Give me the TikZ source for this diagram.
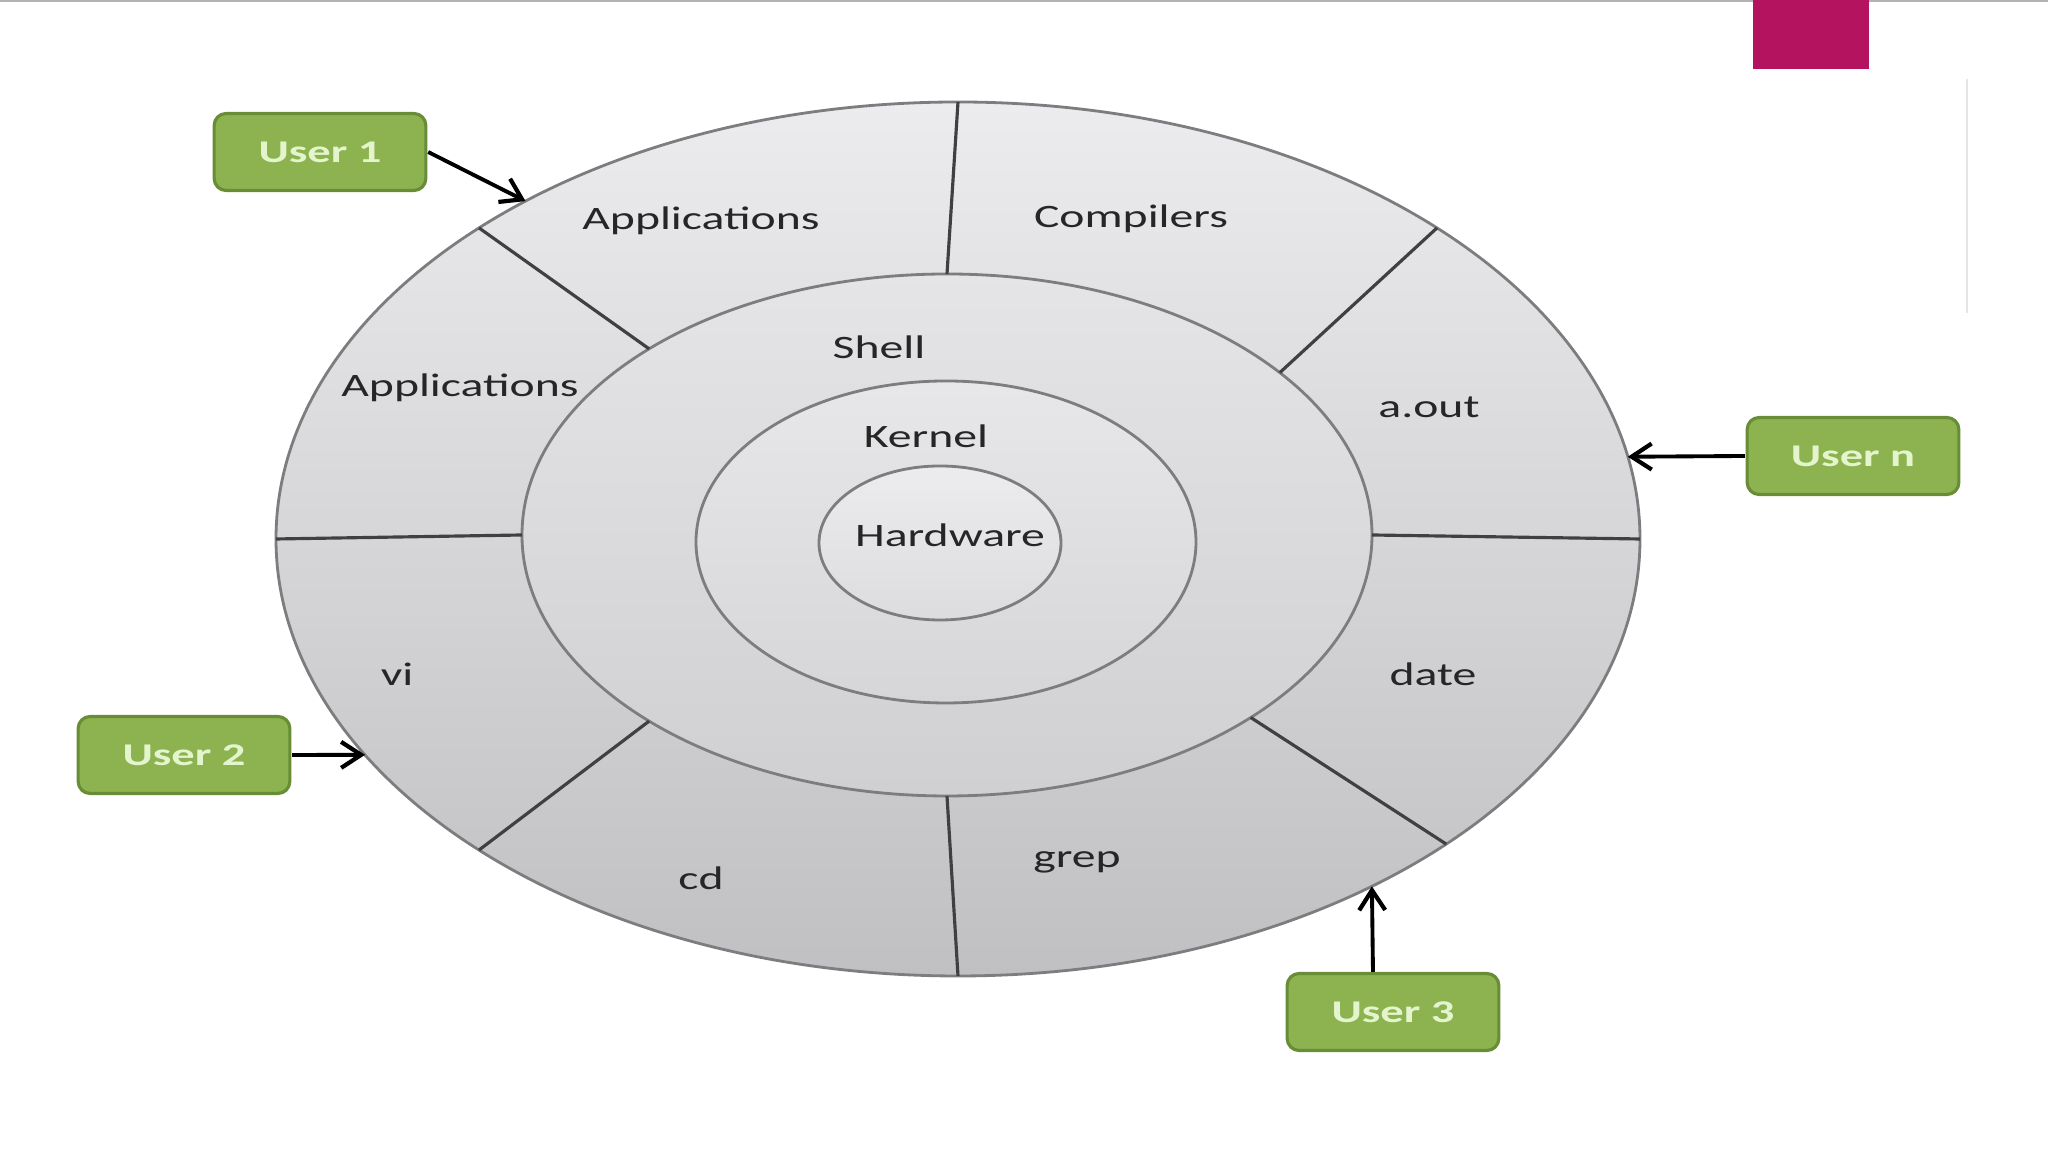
\documentclass[tikz,border=0pt]{standalone}
\usepackage{fontspec}
\setmainfont{Carlito}
\usepackage{tikz}
\usetikzlibrary{arrows.meta, shapes.geometric}
\definecolor{RingEdge}{RGB}{125,125,128}
\definecolor{RingTop}{RGB}{236,236,238}
\definecolor{RingBottom}{RGB}{192,192,195}
\definecolor{UserGreen}{RGB}{141,179,80}
\definecolor{UserBorder}{RGB}{104,141,54}
\definecolor{UserText}{RGB}{228,245,205}
\definecolor{SlideMagenta}{RGB}{180,19,95}

\begin{document}
\begin{tikzpicture}[
      ring/.style={ellipse, draw=RingEdge, line width=0.8pt, inner sep=0pt, outer sep=0pt},
      divider/.style={draw=black!75, line width=0.9pt},
      layer/.style={font=\fontsize{9.3}{11}\selectfont, text=black!85, xscale=1.46, inner sep=1pt},
      user/.style={rectangle, rounded corners=1.2mm, draw=UserBorder, line width=0.9pt, fill=UserGreen, xscale=1.47,
        minimum width=1.44cm, minimum height=0.77cm, text=UserText, font=\bfseries\fontsize{9}{11}\selectfont},
      arr/.style={-{Straight Barb[length=2mm, width=2.6mm, line width=1.2pt]}, line width=1.1pt, black},
    ]
    \useasboundingbox[fill=white] (0,0) rectangle (20.48,11.52);

    % Slide decoration
    \draw[gray!60, line width=0.6pt] (0,11.51) -- (20.48,11.51);
    \fill[SlideMagenta] (17.53,11.52) rectangle (18.69,10.83);
    \draw[gray!20, line width=0.8pt] (19.67,10.73) -- (19.67,8.39);

    % Rings: outer (utilities), shell, kernel, hardware
    \node[ring, top color=RingTop, bottom color=RingBottom, minimum width=13.64cm, minimum height=8.74cm] (outer) at (9.58,6.13) {};
    \node[ring, top color=RingTop!97!black, bottom color=RingBottom!75!white, minimum width=8.50cm, minimum height=5.22cm] (shell) at (9.47,6.17) {};
    \node[ring, top color=RingTop!98!black, bottom color=RingBottom!65!white, minimum width=5.00cm, minimum height=3.22cm] (kernel) at (9.46,6.10) {};
    \node[ring, top color=RingTop, bottom color=RingBottom!55!white, minimum width=2.42cm, minimum height=1.54cm] (hw) at (9.40,6.09) {};

    % Sector dividers of the outer ring
    \foreach \a/\b in {90/90, 147/148, 33/26, 180/180, 0/0, 213/212, 328/329, 270/270}
      \draw[divider] (outer.\a) -- (shell.\b);

    % Labels
    \node[layer] (appsA) at (7.01,9.31) {Applications};
    \node[layer] (comp) at (11.31,9.33) {Compilers};
    \node[layer] (appsB) at (4.60,7.64) {Applications};
    \node[layer] (aout) at (14.29,7.45) {a.out};
    \node[layer] (vi) at (3.97,4.78) {vi};
    \node[layer] (date) at (14.33,4.78) {date};
    \node[layer] (cd) at (7.01,2.74) {cd};
    \node[layer] (grep) at (10.77,2.90) {grep};
    \node[layer] (shellL) at (8.79,8.05) {Shell};
    \node[layer] (kernelL) at (9.26,7.16) {Kernel};
    \node[layer] (hwL) at (9.50,6.17) {Hardware};

    % Users
    \node[user] (u1) at (3.20,10.00) {User 1};
    \node[user] (u2) at (1.84,3.97) {User 2};
    \node[user] (u3) at (13.93,1.40) {User 3};
    \node[user] (un) at (18.53,6.96) {User n};

    \draw[arr] (u1.east) -- (outer.142);
    \draw[arr] (u2.east) -- (outer.200);
    \draw[arr] ([xshift=-2mm]u3.north) -- (outer.320);
    \draw[arr] (un.west) -- (outer.7);
  \end{tikzpicture}
\end{document}
